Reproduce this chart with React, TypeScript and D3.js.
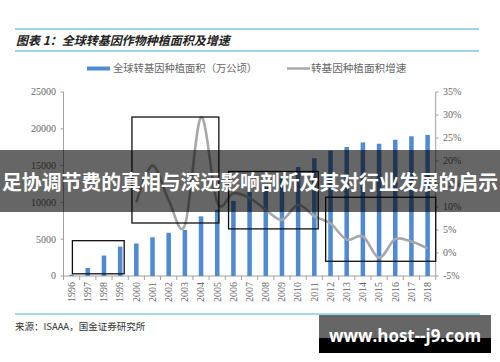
import React from 'react';
import * as d3 from 'd3';

const years = ['1996','1997','1998','1999','2000','2001','2002','2003','2004','2005','2006','2007','2008','2009','2010','2011','2012','2013','2014','2015','2016','2017','2018'];
// 全球转基因种植面积（万公顷）
const areas = [170, 1100, 2780, 3990, 4420, 5260, 5870, 6250, 8100, 9000, 10200, 11430, 12500, 13400, 14800, 16000, 17030, 17520, 18150, 17970, 18510, 18980, 19170];
// 增速 (%), 2000 起
const growthYears = ['2000','2001','2002','2003','2004','2005','2006','2007','2008','2009','2010','2011','2012','2013','2014','2015','2016','2017','2018'];
const growth = [11, 19, 11.5, 6, 29.5, 11, 13, 12, 9.4, 7.2, 10.5, 8, 6.4, 2.9, 3.6, -1, 3, 2.5, 1];
const leftTicks = [0, 5000, 10000, 15000, 20000, 25000];
const rightTicks = [-5, 0, 5, 10, 15, 20, 25, 30, 35];
// 标注框：横向为年份序号（可带小数），纵向为左轴数值
const boxes = [
  { from: 0.05, to: 3.25, top: 4800, bottom: 300 },
  { from: 3.73, to: 9.1, top: 21600, bottom: 7200 },
  { from: 9.7, to: 15.24, top: 14200, bottom: 6400 },
  { from: 15.7, to: 22.5, top: 10700, bottom: 2000 },
];

const W = 500, H = 362;
const left = 63.5, right = 435.7, top = 92, bottom = 276;
const serif = '"Liberation Serif", "DejaVu Serif", serif';
const cjk = '"Noto Sans CJK SC", sans-serif';

export default function App() {
  const x = d3.scaleBand<string>().domain(years).range([left, right]).paddingInner(0.72).paddingOuter(0.36);
  const xb = d3.scaleBand<string>().domain(years).range([left, right]);
  const xi = d3.scaleLinear().domain([-0.5, years.length - 0.5]).range([left, right]);
  const yL = d3.scaleLinear().domain([0, 25000]).range([bottom, top]);
  const yR = d3.scaleLinear().domain([-5, 35]).range([bottom, top]);
  const line = d3.line<number>()
    .x((_, i) => (xb(growthYears[i]) as number) + xb.bandwidth() / 2)
    .y(d => yR(d))
    .curve(d3.curveCatmullRom.alpha(0));

  return (
    <div style={{ position: 'absolute', left: 0, top: 0 }}>
      <svg width={W} height={H} style={{ display: 'block', background: '#fff' }}>
        <line x1={15} x2={479} y1={29} y2={29} stroke="#3aa6d6" strokeWidth={1.2} />
        <text x={16} y={45} fontFamily={cjk} fontSize={12} fontWeight="bold" fontStyle="italic" fill="#222">图表 1：全球转基因作物种植面积及增速</text>
        <line x1={15} x2={479} y1={51} y2={51} stroke="#3aa6d6" strokeWidth={1.2} />

        {/* legend */}
        <rect x={87} y={66.5} width={23} height={4} fill="#4f8ad2" />
        <text x={113} y={72} fontFamily={cjk} fontSize={10.3} fill="#666">全球转基因种植面积（万公顷）</text>
        <line x1={287} x2={310} y1={68.5} y2={68.5} stroke="#a8a8a8" strokeWidth={2.5} />
        <text x={311} y={72} fontFamily={cjk} fontSize={10.6} fill="#666">转基因种植面积增速</text>

        {/* axes */}
        <line x1={left} x2={left} y1={top} y2={bottom} stroke="#a0a0a0" />
        <line x1={right} x2={right} y1={top} y2={bottom} stroke="#a0a0a0" />
        <line x1={left} x2={right} y1={bottom} y2={bottom} stroke="#a0a0a0" />
        {leftTicks.map(t => (
          <g key={'l' + t}>
            <line x1={left - 3} x2={left} y1={yL(t)} y2={yL(t)} stroke="#a0a0a0" />
            <text x={56} y={yL(t)} dy="0.33em" textAnchor="end" fontFamily={serif} fontSize={10} fill="#666">{t}</text>
          </g>
        ))}
        {rightTicks.map(t => (
          <g key={'r' + t}>
            <line x1={right} x2={right + 3} y1={yR(t)} y2={yR(t)} stroke="#a0a0a0" />
            <text x={443} y={yR(t)} dy="0.33em" fontFamily={serif} fontSize={10} fill="#666">{t}%</text>
          </g>
        ))}
        {years.map(yr => (
          <g key={'x' + yr}>
            <line x1={xb(yr)} x2={xb(yr)} y1={bottom} y2={bottom + 4} stroke="#a0a0a0" />
            <text transform={`translate(${(xb(yr) as number) + xb.bandwidth() / 2},282) rotate(-90)`} textAnchor="end" dy="0.33em" fontFamily={serif} fontSize={10} fill="#666">{yr}</text>
          </g>
        ))}
        <line x1={right} x2={right} y1={bottom} y2={bottom + 4} stroke="#a0a0a0" />

        {/* bars */}
        {areas.map((v, i) => (
          <rect key={'b' + i} x={x(years[i])} y={yL(v)} width={x.bandwidth()} height={bottom - yL(v)} fill="#4f8ad2" />
        ))}
        <path d={line(growth) || ''} fill="none" stroke="#a8a8a8" strokeWidth={2.6} />

        {/* annotation boxes */}
        {boxes.map((b, i) => (
          <rect key={'box' + i} x={xi(b.from)} y={yL(b.top)} width={xi(b.to) - xi(b.from)}
            height={yL(b.bottom) - yL(b.top)} fill="none" stroke="#111" strokeWidth={1.3} />
        ))}

        {/* footer */}
        <line x1={15} x2={480} y1={314} y2={314} stroke="#86cbe8" strokeWidth={1.5} />
        <text x={15} y={330} fontFamily={cjk} fontSize={9.5} fill="#333">来源：ISAAA，国金证券研究所</text>

        {/* overlay banner */}
        <rect x={0} y={150} width={W} height={62} fill="#000" opacity={0.6} />
        <text x={2} y={183} dy="0.35em" fontFamily={cjk} fontSize={20.5} fontWeight="bold" fill="#fff" textLength={496} lengthAdjust="spacingAndGlyphs">足协调节费的真相与深远影响剖析及其对行业发展的启示</text>

        {/* watermark */}
        <rect x={319} y={315} width={172} height={38} fill="#000" />
        <rect x={319} y={315} width={172} height={23} fill="#666" />
        <text x={405} y={342} textAnchor="middle" fontFamily='"Open Sans", "Noto Sans", sans-serif' fontSize={18} fontWeight="bold" fill="#fff" textLength={152} lengthAdjust="spacingAndGlyphs">www.host--j9.com</text>
      </svg>
    </div>
  );
}
